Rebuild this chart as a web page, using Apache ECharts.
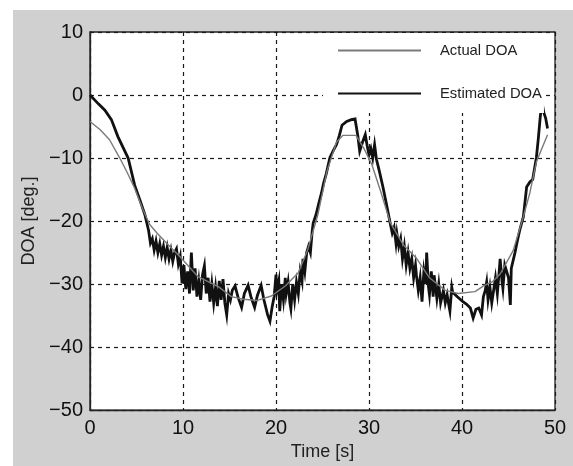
<!DOCTYPE html>
<html>
<head>
<meta charset="utf-8">
<script src="https://cdn.jsdelivr.net/npm/echarts@6/dist/echarts.min.js"></script>
<style>
html,body{margin:0;padding:0;background:#fff;}
#chart{width:573px;height:466px;}
</style>
</head>
<body>
<div id="chart"></div>
<script>
// Tick values
var xTicks = [0, 10, 20, 30, 40, 50];
var yTicks = [-50, -40, -30, -20, -10, 0, 10];
var seriesNames = ['Actual DOA', 'Estimated DOA'];

// Actual DOA (thin grey)
var actualTime = [0, 1.1, 2.1, 3.2, 4.0, 4.8, 5.7, 6.4, 7.2, 8.3, 9.7, 11.6, 13.8, 15.2, 16.5, 18.0, 19.5, 21.0, 22.4, 23.4, 24.5, 25.5, 26.5, 27.2, 28.6, 29.5, 30.3, 31.3, 32.3, 33.7, 35.1, 36.5, 38.2, 39.6, 41.4, 42.4, 43.3, 44.1, 45.5, 46.6, 47.3, 48.0, 49.2];
var actualDOA = [-4.2, -5.5, -7.1, -10, -12.3, -14.8, -18.2, -20.5, -21.9, -23.6, -25.7, -28.8, -30.4, -32, -32.4, -32.6, -31.9, -30.3, -28.2, -24.6, -19, -12, -7.5, -6.4, -6.4, -8.6, -11, -15.5, -20.3, -23.8, -25.9, -29, -31, -31.5, -31.2, -30.2, -29.6, -28.4, -24.7, -19.3, -15.5, -10.6, -6.3];

// Estimated DOA (thick black, noisy)
var estTime = [0, 0.9, 1.6, 2.3, 3.0, 4.1, 4.8, 5.4, 5.9, 6.3, 6.5, 6.7, 6.9, 7.1, 7.3, 7.5, 7.7, 7.9, 8.1, 8.3, 8.5, 8.7, 8.9, 9.1, 9.3, 9.5, 9.7, 9.9, 10.1, 10.3, 10.5, 10.7, 10.9, 11.1, 11.3, 11.5, 11.7, 11.9, 12.1, 12.3, 12.5, 12.7, 12.9, 13.1, 13.3, 13.5, 13.7, 13.9, 14.1, 14.3, 14.5, 14.7, 14.9, 15.1, 15.3, 15.6, 15.9, 16.3, 16.6, 17.0, 17.3, 17.7, 18.0, 18.4, 18.7, 19.1, 19.35, 19.6, 19.8, 20.0, 20.1, 20.3, 20.4, 20.6, 20.8, 21.0, 21.1, 21.3, 21.5, 21.6, 21.8, 22.0, 22.2, 22.4, 22.6, 22.8, 22.9, 23.1, 23.3, 23.5, 23.7, 23.9, 24.0, 24.3, 24.6, 24.9, 25.1, 25.4, 25.8, 26.2, 26.5, 26.8, 27.1, 27.6, 28.1, 28.5, 28.8, 29.0, 29.3, 29.6, 29.8, 30.0, 30.2, 30.4, 30.6, 30.8, 31.1, 31.5, 31.9, 32.3, 32.5, 32.7, 32.9, 33.0, 33.2, 33.4, 33.6, 33.8, 34.0, 34.2, 34.4, 34.6, 34.8, 35.0, 35.1, 35.3, 35.5, 35.7, 35.9, 36.1, 36.2, 36.4, 36.5, 36.7, 36.9, 37.0, 37.2, 37.3, 37.5, 37.7, 37.8, 38.0, 38.2, 38.4, 38.6, 38.7, 38.9, 39.0, 39.5, 40.1, 40.5, 40.9, 41.2, 41.5, 41.8, 42.1, 42.3, 42.5, 42.65, 42.8, 43.0, 43.2, 43.4, 43.6, 43.8, 44.0, 44.1, 44.3, 44.4, 44.6, 44.8, 45.0, 45.2, 45.3, 45.5, 45.7, 45.9, 46.2, 46.6, 46.95, 47.3, 47.6, 48.0, 48.2, 48.4, 48.6, 48.8, 49.0, 49.2];
var estDOA = [0, -1.4, -2.4, -3.9, -6.6, -10, -14.3, -16.8, -19.0, -21.5, -23.5, -22.8, -24.6, -23.2, -25.0, -23.6, -25.4, -24.0, -25.8, -24.2, -26.0, -24.6, -26.4, -25.0, -24.4, -26.8, -25.6, -29.9, -27.0, -30.8, -28.0, -31.5, -25.0, -31.0, -27.5, -32.0, -29.5, -32.5, -28.5, -27.1, -31.5, -29.0, -32.8, -30.0, -33.0, -30.5, -33.5, -29.5, -32.5, -29.2, -33.0, -34.9, -31.5, -32.5, -31.0, -30.3, -32.0, -33.7, -31.5, -30.2, -32.0, -33.7, -31.8, -30.2, -32.5, -34.9, -35.9, -33.5, -32.0, -28.5, -31.0, -29.5, -34.3, -30.0, -32.5, -29.0, -31.5, -29.7, -33.0, -33.9, -30.0, -32.5, -29.7, -31.5, -28.0, -29.5, -26.0, -28.0, -25.0, -24.0, -25.0, -21.5, -20.3, -19.0, -17.2, -15.5, -14.1, -12.5, -9.9, -8.7, -7.9, -6.5, -4.8, -4.2, -3.9, -3.8, -6.5, -8.9, -7.5, -6.3, -8.0, -9.5, -8.5, -10.0, -7.9, -10.2, -12.0, -14.6, -17.5, -20.5, -21.9, -21.0, -23.5, -22.0, -24.0, -22.8, -26.0, -24.0, -27.0, -25.0, -27.5, -26.0, -29.0, -27.0, -28.6, -31.0, -29.0, -32.8, -28.0, -30.0, -25.0, -30.5, -31.7, -28.0, -32.0, -28.6, -31.0, -32.3, -30.0, -33.0, -33.3, -31.0, -33.0, -31.7, -33.5, -34.3, -30.5, -31.3, -32.0, -32.8, -33.2, -33.8, -35.4, -34.0, -33.8, -34.9, -32.0, -31.0, -29.7, -32.5, -30.5, -33.0, -33.3, -29.0, -31.5, -28.0, -26.0, -29.5, -30.7, -27.0, -27.2, -29.0, -33.3, -27.5, -27.2, -25.0, -23.5, -21.5, -19.3, -14.6, -13.8, -13.4, -9.9, -7.0, -3.7, -1.1, -2.8, -3.7, -5.3];

function pairs(xs, ys) { return xs.map(function (x, i) { return [x, ys[i]]; }); }
function fmt(v) { return String(v).replace('-', '\u2212'); }

var chart = echarts.init(document.getElementById('chart'), null, {renderer: 'canvas'});
var FONT = 'Liberation Sans, Arial, Helvetica, sans-serif';
var gridLine = {show: true, lineStyle: {color: '#1a1a1a', width: 1.2, type: [4, 4]}};

chart.setOption({
  animation: false,
  backgroundColor: '#fff',
  graphic: {elements: [{type: 'rect', z: -100, silent: true,
    shape: {x: 13, y: 10, width: 560, height: 456},
    style: {fill: '#d0d0d0'}}]},
  grid: {left: 90, top: 32, width: 465, height: 385, show: true,
    backgroundColor: '#fff', borderColor: '#222', borderWidth: 1.3, containLabel: false},
  legend: {
    orient: 'vertical', left: 323, top: 33,
    padding: [10, 2, 12, 14], itemGap: 28,
    itemWidth: 83, itemHeight: 14,
    backgroundColor: '#fff',
    itemStyle: {opacity: 0},
    data: seriesNames,
    textStyle: {fontFamily: FONT, fontSize: 14.8, color: '#222', padding: [0, 0, 0, 14]}
  },
  xAxis: {
    type: 'value', min: xTicks[0], max: xTicks[xTicks.length - 1], interval: 10,
    name: 'Time [s]', nameLocation: 'middle', nameGap: 28,
    nameTextStyle: {fontFamily: FONT, fontSize: 18, color: '#222'},
    axisLine: {show: true, onZero: false, lineStyle: {color: '#222', width: 1.3}},
    axisTick: {show: false},
    axisLabel: {fontFamily: FONT, fontSize: 20, color: '#111', margin: 8, formatter: fmt},
    splitLine: gridLine
  },
  yAxis: {
    type: 'value', min: yTicks[0], max: yTicks[yTicks.length - 1], interval: 10,
    name: 'DOA [deg.]', nameLocation: 'middle', nameGap: 43, nameRotate: 90,
    nameTextStyle: {fontFamily: FONT, fontSize: 18, color: '#222'},
    axisLine: {show: true, onZero: false, lineStyle: {color: '#222', width: 1.3}},
    axisTick: {show: false},
    axisLabel: {fontFamily: FONT, fontSize: 20, color: '#111', margin: 7, formatter: fmt},
    splitLine: gridLine
  },
  series: [
    {name: seriesNames[0], type: 'line', data: pairs(actualTime, actualDOA),
      showSymbol: false, symbol: 'none', z: 3,
      lineStyle: {color: '#7a7a7a', width: 1.4}, itemStyle: {color: '#7a7a7a'}},
    {name: seriesNames[1], type: 'line', data: pairs(estTime, estDOA),
      showSymbol: false, symbol: 'none', z: 2,
      lineStyle: {color: '#111', width: 2.8, join: 'miter'}, itemStyle: {color: '#111'}}
  ]
});
</script>
</body>
</html>
